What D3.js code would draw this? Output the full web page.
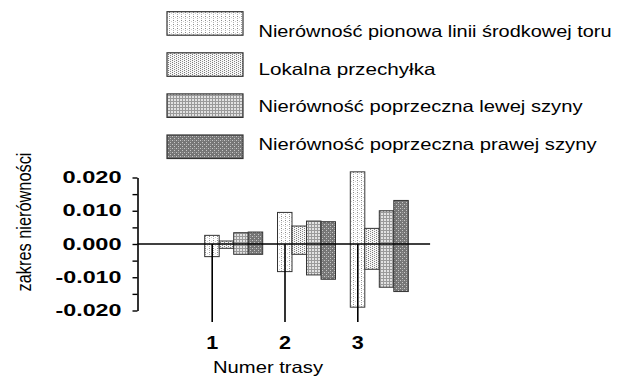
<!DOCTYPE html>
<html>
<head>
<meta charset="utf-8">
<script src="https://cdn.jsdelivr.net/npm/d3@7"></script>
<style>
  body { margin: 0; background: #fff; }
  svg { display: block; font-family: "Liberation Sans", Arial, sans-serif; }
</style>
</head>
<body>
<svg width="619" height="377"></svg>
<script>
// trasy (routes) on the x axis
var routes = [1, 2, 3];
var seriesNames = [
  "Nierówność pionowa linii środkowej toru",
  "Lokalna przechyłka",
  "Nierówność poprzeczna lewej szyny",
  "Nierówność poprzeczna prawej szyny"
];

// range of each measure per route (max above zero, min below)
var pionowaMax = [0.0026, 0.0095, 0.0217];
var pionowaMin = [-0.0038, -0.0083, -0.0190];
var przechylkaMax = [0.0009, 0.0054, 0.0047];
var przechylkaMin = [-0.0013, -0.0031, -0.0076];
var lewaMax = [0.0034, 0.0069, 0.0100];
var lewaMin = [-0.0031, -0.0093, -0.0130];
var prawaMax = [0.0036, 0.0067, 0.0131];
var prawaMin = [-0.0031, -0.0106, -0.0143];

var yMajor = [-0.02, -0.01, 0, 0.01, 0.02];
var yMinor = [-0.015, -0.005, 0.005, 0.015];

var maxes = [pionowaMax, przechylkaMax, lewaMax, prawaMax];
var mins = [pionowaMin, przechylkaMin, lewaMin, prawaMin];

var bars = [];
routes.forEach(function(r, i) {
  seriesNames.forEach(function(s, j) {
    bars.push({ route: r, series: j, hi: maxes[j][i], lo: mins[j][i] });
  });
});

var svg = d3.select("svg");

// fill patterns
var defs = svg.append("defs");
function pattern(id, size, bg, dots) {
  var p = defs.append("pattern")
    .attr("id", id)
    .attr("patternUnits", "userSpaceOnUse")
    .attr("width", size[0]).attr("height", size[1]);
  p.append("rect").attr("width", size[0]).attr("height", size[1]).attr("fill", bg);
  dots.forEach(function(d) {
    p.append("rect").attr("x", d[0]).attr("y", d[1])
      .attr("width", d[3] || 1).attr("height", d[4] || 1).attr("fill", d[2]);
  });
}
pattern("p0", [4, 4], "#ffffff", [[1, 0, "#8a8a8a"], [1, 2, "#b5b5b5"], [3, 1, "#d0d0d0"]]);
pattern("p1", [4, 2], "#f6f6f6", [[0, 0, "#7a7a7a"], [2, 1, "#8a8a8a"]]);
pattern("p2", [3, 3], "#e2e2e2", [[2, 0, "#9a9a9a", 1, 3], [0, 2, "#9a9a9a", 2, 1]]);
pattern("p3", [4, 4], "#767676", [[0, 0, "#c8c8c8"], [2, 2, "#c8c8c8"], [2, 0, "#9a9a9a"]]);

var y = d3.scaleLinear().domain([-0.02, 0.02]).range([310.5, 177.5]);
var x = d3.scaleLinear().domain([1, 3]).range([211.7, 357.3]);
var band = d3.scaleBand().domain(d3.range(seriesNames.length)).range([-7, 51]);
var axisX = 137.5;

// bars
svg.append("g").selectAll("rect")
  .data(bars)
  .enter().append("rect")
  .attr("x", function(d) { return x(d.route) + band(d.series); })
  .attr("y", function(d) { return y(d.hi); })
  .attr("width", band.bandwidth())
  .attr("height", function(d) { return y(d.lo) - y(d.hi); })
  .attr("fill", function(d) { return "url(#p" + d.series + ")"; })
  .attr("stroke", "#333")
  .attr("stroke-width", 1);

// zero line
svg.append("line")
  .attr("x1", axisX).attr("x2", x(4))
  .attr("y1", y(0)).attr("y2", y(0))
  .attr("stroke", "#000").attr("stroke-width", 1.6);

// y axis
var yAxis = svg.append("g")
  .attr("transform", "translate(" + axisX + ",0)")
  .call(d3.axisLeft(y)
    .tickValues(yMajor.concat(yMinor))
    .tickSize(5)
    .tickSizeOuter(0)
    .tickPadding(11)
    .tickFormat(function(d) {
      return yMajor.indexOf(d) >= 0 ? d3.format(".3f")(d).replace("−", "-") : "";
    }));
yAxis.select(".domain").attr("stroke", "#000").attr("stroke-width", 1.6);
yAxis.selectAll(".tick line").attr("stroke", "#000").attr("stroke-width", 1.4);
yAxis.selectAll(".tick text")
  .attr("fill", "#000")
  .style("font-size", "16px")
  .style("font-weight", "bold")
  .attr("textLength", function(d) { return d < 0 ? 66 : 59; })
  .attr("lengthAdjust", "spacingAndGlyphs");

// x axis: long ticks hanging from the zero line
var xAxis = svg.append("g")
  .attr("transform", "translate(0," + y(0) + ")")
  .call(d3.axisBottom(x).tickValues(routes).tickSize(78).tickPadding(14).tickFormat(d3.format("d")));
xAxis.select(".domain").remove();
xAxis.selectAll(".tick line").attr("stroke", "#000").attr("stroke-width", 1.6);
xAxis.selectAll(".tick text")
  .attr("fill", "#000")
  .style("font-size", "18px")
  .style("font-weight", "bold")
  .attr("textLength", 12)
  .attr("lengthAdjust", "spacingAndGlyphs");

// axis titles
svg.append("text")
  .attr("x", 268).attr("y", 372.5)
  .attr("text-anchor", "middle")
  .style("font-size", "16.5px")
  .attr("textLength", 110)
  .attr("lengthAdjust", "spacingAndGlyphs")
  .text("Numer trasy");

svg.append("text")
  .attr("transform", "translate(31,222) rotate(-90)")
  .attr("text-anchor", "middle")
  .style("font-size", "20px")
  .attr("textLength", 139)
  .attr("lengthAdjust", "spacingAndGlyphs")
  .text("zakres nierówności");

// legend
var legendW = [353, 177, 324, 338];
var legend = svg.append("g").selectAll("g")
  .data(seriesNames)
  .enter().append("g");
legend.append("rect")
  .attr("x", 167).attr("y", function(d, i) { return 11.7 + i * 41.1; })
  .attr("width", 76).attr("height", 23.5)
  .attr("fill", function(d, i) { return "url(#p" + i + ")"; })
  .attr("stroke", "#333").attr("stroke-width", 1.2);
legend.append("text")
  .attr("x", 258.5).attr("y", function(d, i) { return 36.8 + i * 37.7; })
  .style("font-size", "16.5px")
  .attr("textLength", function(d, i) { return legendW[i]; })
  .attr("lengthAdjust", "spacingAndGlyphs")
  .text(function(d) { return d; });
</script>
</body>
</html>
